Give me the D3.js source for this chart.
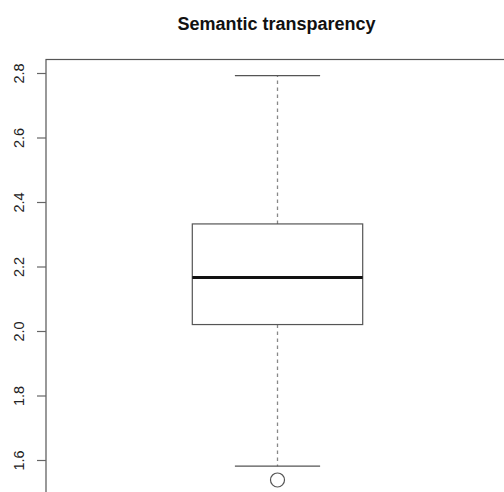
<!DOCTYPE html>
<html>
<head>
<meta charset="utf-8">
<script src="https://cdn.jsdelivr.net/npm/d3@7"></script>
<style>
  body { margin: 0; background: #fff; }
  svg { display: block; font-family: 'Liberation Sans', Arial, sans-serif; }
</style>
</head>
<body>
<div id="graf"></div>
<script>
// I. Data
const titleText = 'Semantic transparency'
const yTicks = [1.6, 1.8, 2.0, 2.2, 2.4, 2.6, 2.8]
// five numbers: lower whisker, Q1, median, Q3, upper whisker
const stats = [1.581, 2.02, 2.166, 2.332, 2.792]
const outliers = [1.538]

// II. Setup
const ancho_total = 504
const alto_total = 492

const svg = d3.select('#graf').append('svg')
        .attr('width', ancho_total)
        .attr('height', alto_total)

// plot frame goes past the right and bottom edges (cropped picture)
const frame = { left: 46, top: 59.5, right: 520, bottom: 510 }

const y = d3.scaleLinear()
      .domain([1.6, 2.8])
      .range([460, 73])

const x = d3.scaleLinear()
      .domain([0.6, 1.4])
      .range([192.3, 362.7])

// III. Frame and axis
svg.append('rect')
   .attr('x', frame.left)
   .attr('y', frame.top)
   .attr('width', frame.right - frame.left)
   .attr('height', frame.bottom - frame.top)
   .attr('fill', 'none')
   .attr('stroke', '#555')
   .attr('stroke-width', 1.2)

const yAxis = svg.append('g')
           .attr('transform', `translate(${ frame.left }, 0)`)
           .call(d3.axisLeft(y).tickValues(yTicks).tickSize(9).tickFormat(d3.format('.1f')))

yAxis.select('.domain').remove()
yAxis.selectAll('.tick line').attr('stroke', '#666').attr('stroke-width', 1.2)
yAxis.selectAll('.tick text')
     .attr('x', null).attr('dy', null)
     .attr('transform', 'translate(-22, 0) rotate(-90)')
     .attr('text-anchor', 'middle')
     .style('font-size', '14.5px')
     .attr('fill', '#222')

// IV. Boxplot
const [lo, q1, med, q3, hi] = stats
const cx = x(1)

svg.append('line')
   .attr('x1', cx).attr('x2', cx)
   .attr('y1', y(q3)).attr('y2', y(hi))
   .attr('stroke', '#888').attr('stroke-dasharray', '3.5,3.5').attr('stroke-width', 1.3)
svg.append('line')
   .attr('x1', cx).attr('x2', cx)
   .attr('y1', y(q1)).attr('y2', y(lo))
   .attr('stroke', '#888').attr('stroke-dasharray', '3.5,3.5').attr('stroke-width', 1.3)

// whisker caps, half the box width
;[lo, hi].forEach(v => {
  svg.append('line')
     .attr('x1', x(0.8)).attr('x2', x(1.2))
     .attr('y1', y(v)).attr('y2', y(v))
     .attr('stroke', '#555').attr('stroke-width', 1.2)
})

svg.append('rect')
   .attr('x', x(0.6))
   .attr('y', y(q3))
   .attr('width', x(1.4) - x(0.6))
   .attr('height', y(q1) - y(q3))
   .attr('fill', 'none')
   .attr('stroke', '#555')
   .attr('stroke-width', 1.2)

svg.append('line')
   .attr('x1', x(0.6)).attr('x2', x(1.4))
   .attr('y1', y(med)).attr('y2', y(med))
   .attr('stroke', '#111').attr('stroke-width', 3)

svg.selectAll('circle.out')
   .data(outliers)
   .enter()
   .append('circle')
     .attr('class', 'out')
     .attr('cx', cx)
     .attr('cy', d => y(d))
     .attr('r', 7)
     .attr('fill', 'none')
     .attr('stroke', '#555')
     .attr('stroke-width', 1.2)

// V. Title
svg.append('text')
   .attr('x', 276.5)
   .attr('y', 30)
   .attr('text-anchor', 'middle')
   .attr('font-size', '18px')
   .attr('font-weight', 'bold')
   .attr('fill', '#111')
   .text(titleText)
</script>
</body>
</html>
